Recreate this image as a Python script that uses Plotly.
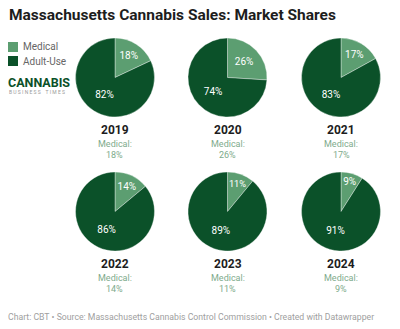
import plotly.graph_objects as go

W, H = 400, 329
years = ["2019", "2020", "2021", "2022", "2023", "2024"]
medical = [18, 26, 17, 14, 11, 9]
adult_use = [82, 74, 83, 86, 89, 91]
labels = ["Medical", "Adult-Use"]
colors = ["#5c9e71", "#0b5129"]

title = "Massachusetts Cannabis Sales: Market Shares"
footer = "Chart: CBT • Source: Massachusetts Cannabis Control Commission • Created with Datawrapper"

cols_px = [115, 227.5, 341]
rows_px = [77.5, 211.5]
R = 39.5

def px_x(x):
    return x / W

def px_y(y):
    return 1 - y / H

fig = go.Figure()
annotations = []
for i, yr in enumerate(years):
    cx = cols_px[i % 3]
    cy = rows_px[i // 3]
    fig.add_trace(go.Pie(
        labels=labels,
        values=[medical[i], adult_use[i]],
        sort=False,
        direction="clockwise",
        rotation=0,
        marker=dict(colors=colors, line=dict(color="rgba(255,255,255,0.6)", width=0.6)),
        texttemplate="%{value}%",
        textposition="inside",
        insidetextorientation="horizontal",
        textfont=dict(family="Roboto", size=10, color="#ffffff"),
        hoverinfo="label+percent",
        showlegend=False,
        domain=dict(x=[px_x(cx - R), px_x(cx + R)], y=[px_y(cy + R), px_y(cy - R)]),
    ))
    base = cy + 52.5
    annotations.append(dict(x=px_x(cx), y=px_y(base), text="<b>%s</b>" % yr,
                            showarrow=False, xanchor="center", yanchor="middle",
                            font=dict(family="Roboto", size=12, color="#1d1d1d")))
    annotations.append(dict(x=px_x(cx), y=px_y(base + 13.5), text="Medical:",
                            showarrow=False, xanchor="center", yanchor="middle",
                            font=dict(family="Roboto", size=9, color="#7eab8c")))
    annotations.append(dict(x=px_x(cx), y=px_y(base + 24.5), text="%d%%" % medical[i],
                            showarrow=False, xanchor="center", yanchor="middle",
                            font=dict(family="Roboto", size=9, color="#7eab8c")))

annotations.append(dict(x=px_x(7), y=px_y(15), text="<b>%s</b>" % title, showarrow=False,
                        xanchor="left", yanchor="middle",
                        font=dict(family="Roboto", size=15.5, color="#1d1d1d")))
annotations.append(dict(x=px_x(6), y=px_y(317), text=footer, showarrow=False,
                        xanchor="left", yanchor="middle",
                        font=dict(family="Roboto", size=8.7, color="#a0a0a0")))

shapes = []
for j, lab in enumerate(labels):
    y0 = 42 + j * 14
    shapes.append(dict(type="rect", xref="paper", yref="paper",
                       x0=px_x(8), x1=px_x(18), y0=px_y(y0 + 10), y1=px_y(y0),
                       fillcolor=colors[j], line=dict(width=0)))
    annotations.append(dict(x=px_x(21), y=px_y(y0 + 5), text=lab, showarrow=False,
                            xanchor="left", yanchor="middle",
                            font=dict(family="Roboto", size=10, color="#666666")))

annotations.append(dict(x=px_x(6), y=px_y(82), text="<b>CANNABIS</b>", showarrow=False,
                        xanchor="left", yanchor="middle",
                        font=dict(family="Roboto", size=12.5, color="#0b5129")))
annotations.append(dict(x=px_x(7), y=px_y(92), text="B U S I N E S S    T I M E S", showarrow=False,
                        xanchor="left", yanchor="middle",
                        font=dict(family="Roboto", size=5, color="#9a9a9a")))

fig.update_layout(
    width=W, height=H,
    margin=dict(l=0, r=0, t=0, b=0),
    paper_bgcolor="#ffffff",
    plot_bgcolor="#ffffff",
    annotations=annotations,
    shapes=shapes,
)
fig.write_html("out.html")
